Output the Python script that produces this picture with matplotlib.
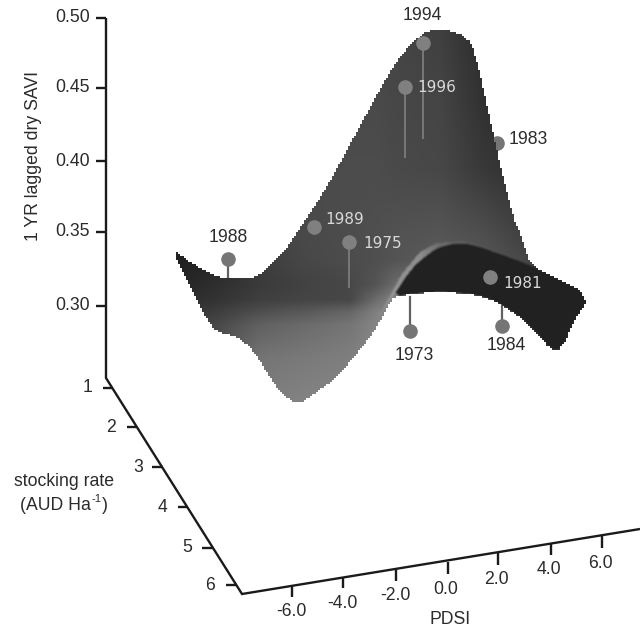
import numpy as np
import matplotlib
matplotlib.use("Agg")
import matplotlib.pyplot as plt
from matplotlib.path import Path

plt.rcParams["font.family"] = ["Liberation Sans", "DejaVu Sans"]
INK = "0.1"
TEXT = "0.17"
FS = 12.7

# axes
SAVI_LABELS = ["0.50", "0.45", "0.40", "0.35", "0.30"]
SAVI_Y = [18, 88, 161, 232, 306]
STOCK_LABELS = ["1", "2", "3", "4", "5", "6"]
STOCK_Y = [388, 427, 467, 507, 548, 585]
STOCK_TICK_X = [103, 127, 152, 178, 202, 226]
STOCK_TICK_END = [113, 137, 163, 188, 213, 237]
STOCK_LABEL_X = [88, 111, 138, 162, 187, 210]
PDSI_LABELS = ["-6.0", "-4.0", "-2.0", "0.0", "2.0", "4.0", "6.0"]
PDSI_X = [292, 343, 396, 448, 498, 551, 602]
PDSI_TOP = [586, 578, 569, 562, 553, 544, 536]
PDSI_BOT = [597, 588, 581, 574, 565, 555, 548]
PDSI_LABEL_X = [291, 342, 395, 446, 496, 549, 600]
PDSI_LABEL_Y = [611, 603, 595, 589, 579, 569, 563]
AXIS_X = [106, 106, 242, 640]
AXIS_Y = [18, 378, 594, 529]

# surface outline
OUT_X = [172, 190, 207, 220, 243, 257, 273, 287, 300, 327, 347, 367, 387, 403, 420, 437, 453, 467, 475,
         483, 493, 503, 513, 523, 530, 557, 590, 573, 562, 550, 537, 520, 497, 477, 447, 420, 393,
         390, 377, 360, 337, 317, 297, 280, 270, 253, 238, 217, 207, 190]
OUT_Y = [249, 262, 272, 278, 279, 277, 263, 248, 228, 187, 150, 113, 77, 53, 35, 28, 32, 37, 53,
         87, 133, 177, 217, 240, 265, 278, 296, 323, 349, 349, 333, 317, 302, 295, 292, 293, 297,
         303, 327, 350, 377, 392, 405, 392, 377, 350, 337, 332, 320, 287]
# dark underside, to the right of the fold
UNDER_X = [393, 405, 417, 437, 457, 473, 497, 530, 557, 592, 573, 562, 550, 537, 520, 497, 477, 447, 420]
UNDER_Y = [297, 278, 263, 248, 243, 245, 253, 265, 278, 296, 323, 349, 349, 333, 317, 302, 295, 292, 293]
# light rim along the fold: its upper edge, with a grey per x position
RIM_X = [378, 392, 402, 420, 437, 463, 480]
RIM_Y = [318, 292, 274, 252, 243, 241, 245]
RIM_GRAY_X = [376, 395, 420, 440, 470]
RIM_GRAY = [0.56, 0.58, 0.55, 0.42, 0.34]

# grey levels of the surface
SHADE_X = [170, 215, 260, 305, 350, 375, 395, 440, 485, 530, 590]
SHADE_Y = [30, 100, 170, 230, 260, 285, 300, 312, 325, 360, 410]
SHADE = [
    [.22, .22, .22, .24, .26, .27, .27, .25, .17, .15, .15],
    [.24, .24, .25, .27, .29, .29, .28, .27, .19, .16, .15],
    [.24, .24, .27, .29, .30, .30, .29, .28, .22, .18, .15],
    [.18, .20, .25, .29, .30, .31, .32, .33, .30, .24, .15],
    [.12, .15, .24, .28, .30, .31, .33, .36, .34, .27, .15],
    [.14, .18, .23, .26, .28, .33, .42, .50, .40, .25, .15],
    [.17, .20, .25, .27, .28, .42, .52, .50, .40, .25, .15],
    [.20, .24, .31, .35, .40, .50, .54, .50, .40, .25, .15],
    [.22, .28, .38, .42, .46, .52, .55, .50, .40, .25, .15],
    [.30, .35, .46, .48, .50, .53, .55, .50, .40, .25, .15],
    [.30, .40, .50, .52, .53, .55, .55, .50, .40, .25, .15],
]
UNDER_GRAY = 0.13

# year pins: head, stem end, label
YEARS_BEHIND = ["1988", "1973", "1984", "1983"]
BEHIND_X = [228, 410, 502, 497]
BEHIND_Y = [259, 331, 326, 143]
BEHIND_STEM = [279, 297, 305, 143]
BEHIND_LX = [228, 414, 506, 528]
BEHIND_LY = [238, 355, 346, 140]
YEARS_FRONT = ["1994", "1996", "1989", "1975", "1981"]
FRONT_X = [423, 405, 314, 349, 490]
FRONT_Y = [43, 87, 227, 242, 277]
FRONT_STEM = [138, 157, 227, 287, 277]
FRONT_LX = [422, 437, 345, 383, 523]
FRONT_LY = [16, 88, 220, 244, 283]
FRONT_LGRAY = ["0.17", "0.85", "0.85", "0.85", "0.85"]


def chaikin(x, y, rounds=1):
    # round off the polygon corners, keeps the jagged mask from looking faceted
    pts = np.column_stack([x, y]).astype(float)
    for _ in range(rounds):
        nxt = np.roll(pts, -1, axis=0)
        pts = np.column_stack([0.75 * pts + 0.25 * nxt, 0.25 * pts + 0.75 * nxt]).reshape(-1, 2)
    return pts


def surface_rgba():
    # 1 px grid for the greys, 2 px cells for the stair-stepped edge of the source
    x0, x1, y0, y1 = 168, 594, 24, 408
    xs = np.arange(x0, x1) + 0.5
    ys = np.arange(y0, y1) + 0.5
    shade = np.array(SHADE)
    by_col = np.array([np.interp(ys, SHADE_Y, shade[:, j]) for j in range(len(SHADE_X))])
    gray = np.array([np.interp(xs, SHADE_X, by_col[:, i]) for i in range(len(ys))])
    xx, yy = np.meshgrid(xs, ys)
    pix = np.column_stack([xx.ravel(), yy.ravel()])

    # rim lies between its upper edge and the underside
    rim_poly = np.vstack([np.column_stack([RIM_X, RIM_Y]),
                          np.column_stack([UNDER_X[:6][::-1], UNDER_Y[:6][::-1]])])
    rim = Path(rim_poly).contains_points(pix).reshape(xx.shape)
    gray[rim] = np.interp(xx[rim], RIM_GRAY_X, RIM_GRAY)
    under = Path(chaikin(UNDER_X, UNDER_Y)).contains_points(pix).reshape(xx.shape)
    gray[under] = UNDER_GRAY

    # soft blur, the source is a low resolution screen grab
    kern = np.ones(3) / 3
    gray = np.apply_along_axis(lambda r: np.convolve(r, kern, mode="same"), 0, gray)
    gray = np.apply_along_axis(lambda r: np.convolve(r, kern, mode="same"), 1, gray)

    cx = xs[::2] + 0.5
    cy = ys[::2] + 0.5
    cxx, cyy = np.meshgrid(cx, cy)
    coarse = Path(chaikin(OUT_X, OUT_Y)).contains_points(np.column_stack([cxx.ravel(), cyy.ravel()]))
    mask = np.kron(coarse.reshape(cxx.shape), np.ones((2, 2)))[:len(ys), :len(xs)]
    rgba = np.dstack([gray, gray, gray, mask])
    return rgba, (x0, x1, y1, y0)


def main():
    fig = plt.figure(figsize=(6.4, 6.27), dpi=100)
    ax = fig.add_axes([0, 0, 1, 1])

    # axes lines and ticks
    ax.plot(AXIS_X, AXIS_Y, color=INK, lw=1.7, solid_joinstyle="miter", solid_capstyle="butt")
    for lab, y in zip(SAVI_LABELS, SAVI_Y):
        ax.plot([96, 106], [y, y], color=INK, lw=1.7, solid_capstyle="butt")
        ax.text(73, y, lab, ha="center", va="center", fontsize=FS, color=TEXT)
    for lab, y, x0, x1, lx in zip(STOCK_LABELS, STOCK_Y, STOCK_TICK_X, STOCK_TICK_END, STOCK_LABEL_X):
        ax.plot([x0, x1], [y, y], color=INK, lw=1.7, solid_capstyle="butt")
        ax.text(lx, y, lab, ha="center", va="center", fontsize=FS, color=TEXT)
    for lab, x, y0, y1, lx, ly in zip(PDSI_LABELS, PDSI_X, PDSI_TOP, PDSI_BOT, PDSI_LABEL_X, PDSI_LABEL_Y):
        ax.plot([x, x], [y0, y1], color=INK, lw=1.7, solid_capstyle="butt")
        ax.text(lx, ly, lab, ha="center", va="center", fontsize=FS, color=TEXT)
    ax.text(34, 156, "1 YR lagged dry SAVI", rotation=90, ha="center", va="center", fontsize=FS, color=TEXT)
    ax.text(450, 619, "PDSI", ha="center", va="center", fontsize=FS, color=TEXT)
    ax.text(63.5, 482, "stocking rate", ha="center", va="center", fontsize=FS, color=TEXT)
    ax.text(20, 505, "(AUD Ha", ha="left", va="center", fontsize=FS, color=TEXT)
    ax.text(92, 499, "-1", ha="left", va="center", fontsize=8, color=TEXT)
    ax.text(101.5, 505, ")", ha="left", va="center", fontsize=FS, color=TEXT)

    # pins partly hidden by the surface
    for x, y, s in zip(BEHIND_X, BEHIND_Y, BEHIND_STEM):
        ax.plot([x, x], [y, s], color="0.38", lw=1.6, zorder=3)
        ax.plot(x, y, "o", color="0.46", ms=10.5, mew=0, zorder=3)

    # surface
    rgba, extent = surface_rgba()
    ax.imshow(rgba, extent=extent, interpolation="nearest", zorder=4, aspect="auto")

    # pins in front
    for x, y, s in zip(FRONT_X, FRONT_Y, FRONT_STEM):
        ax.plot([x, x], [y, s], color="0.47", lw=1.4, zorder=6)
        ax.plot(x, y, "o", color="0.5", ms=10.5, mew=0, zorder=6)

    for lab, x, y in zip(YEARS_BEHIND, BEHIND_LX, BEHIND_LY):
        ax.text(x, y, lab, ha="center", va="center", fontsize=FS, color=TEXT, zorder=7)
    for lab, x, y, g in zip(YEARS_FRONT, FRONT_LX, FRONT_LY, FRONT_LGRAY):
        fam = ["Liberation Sans"] if lab == "1994" else ["DejaVu Sans"]
        ax.text(x, y, lab, ha="center", va="center", fontsize=FS if lab == "1994" else 11, color=g,
                family=fam, zorder=7)

    ax.set_xlim(0, 640)
    ax.set_ylim(627, 0)
    ax.axis("off")
    fig.savefig("out.png", dpi=100)


if __name__ == "__main__":
    main()
